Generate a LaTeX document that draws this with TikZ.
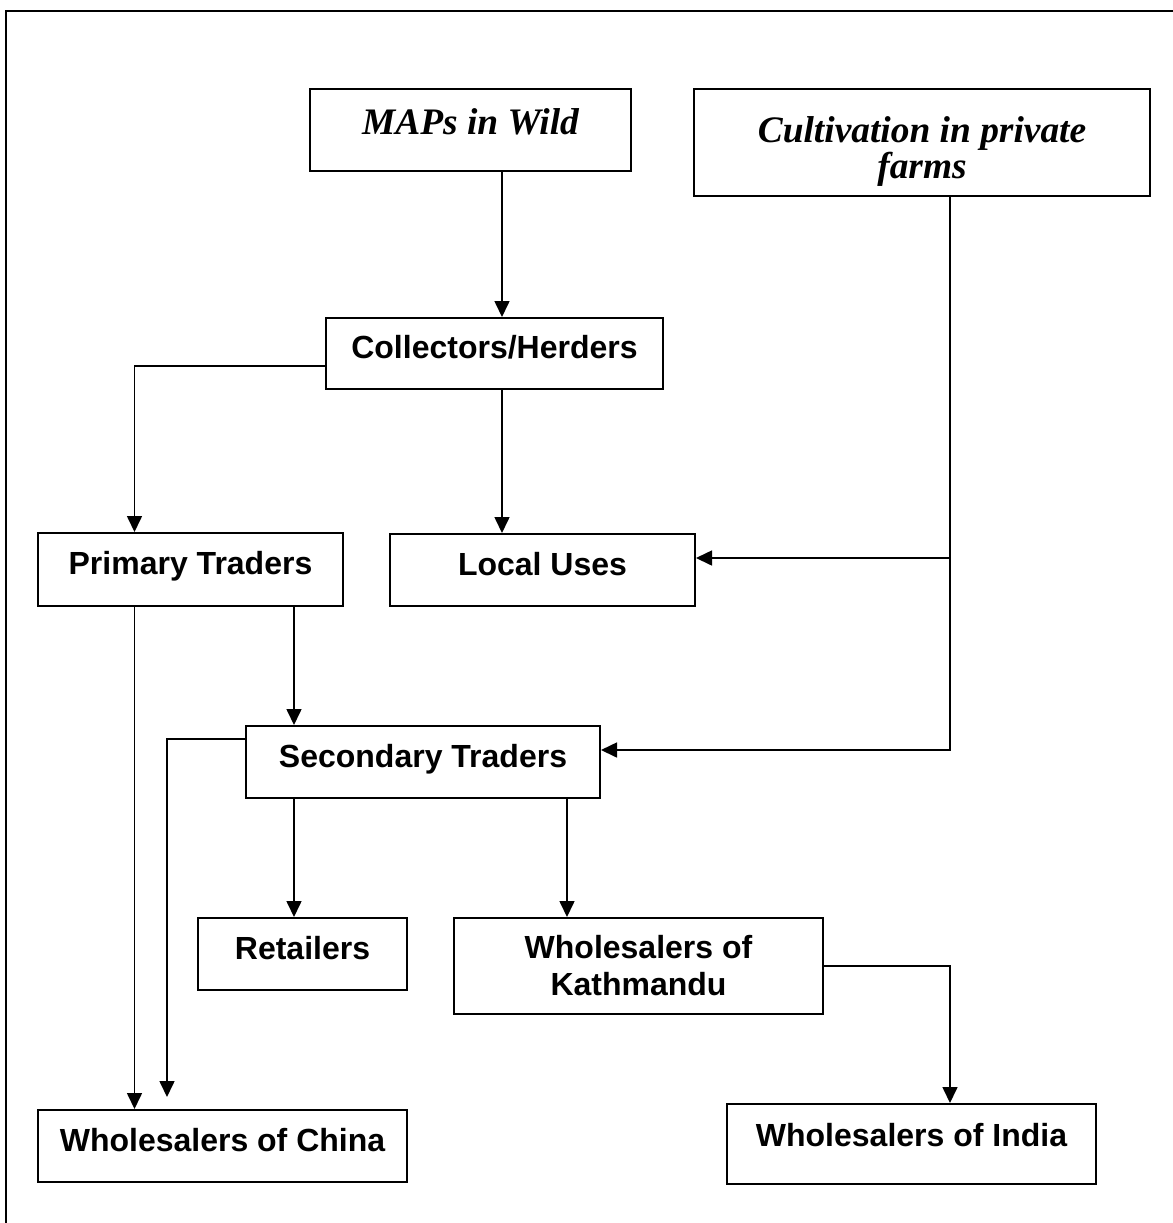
\documentclass[tikz,border=0pt]{standalone}
\usepackage{fontspec}
\setmainfont{Liberation Serif}
\setsansfont{Liberation Sans}
\usetikzlibrary{arrows.meta}

\begin{document}
\begin{tikzpicture}[
    x=0.5pt, y=-0.5pt,
    % boxes with bold sans text
    box/.style={draw, line width=1pt, rectangle, inner sep=0pt, align=center,
        font=\sffamily\bfseries\fontsize{16}{18.5}\selectfont},
    % single line, sitting a little above the middle
    oneline/.style={text height=12pt, text depth=7pt},
    % source boxes with italic serif text
    source/.style={box, font=\rmfamily\bfseries\itshape\fontsize{18.7}{18}\selectfont},
    % connectors
    flow/.style={line width=0.8pt, -{Triangle[length=8pt, width=7.5pt]}},
    % outer frame
    frame/.style={line width=1pt}
]
    \useasboundingbox (0,0) rectangle (1173,1223);

    % 1. outer frame (only top and left are inside the picture)
    \draw[frame] (6,1223) -- (6,11) -- (1173,11);

    % 2. sources
    \node[source, minimum width=160.5pt, minimum height=41pt,
          text height=13pt, text depth=9pt] (wild) at (470.5,130) {MAPs in Wild};
    \node[source, minimum width=228pt, minimum height=53.5pt] (farm) at (922,142.5)
        {\rule{0pt}{22pt}Cultivation in private\\farms};

    % 3. traders and uses
    \node[box, oneline, minimum width=168.5pt, minimum height=35.5pt] (collect) at (494.5,353.5) {Collectors/Herders};
    \node[box, oneline, minimum width=152.5pt, minimum height=36.5pt] (primary) at (190.5,569.5) {Primary Traders};
    \node[box, oneline, minimum width=152.5pt, minimum height=36pt]   (local)   at (542.5,570)   {Local Uses};
    \node[box, oneline, minimum width=177pt,   minimum height=36pt]   (second)  at (423,762)     {Secondary Traders};
    \node[box, oneline, minimum width=104.5pt, minimum height=36pt]   (retail)  at (302.5,954)   {Retailers};
    \node[box, minimum width=184.5pt, minimum height=48pt] (ktm) at (638.5,966) {Wholesalers of\\Kathmandu};
    \node[box, oneline, minimum width=184.5pt, minimum height=36pt]   (china)   at (222.5,1146)  {Wholesalers of China};
    \node[box, text height=12pt, text depth=10pt, minimum width=184.5pt, minimum height=40pt]
        (india) at (911.5,1144) {Wholesalers of India};

    % 4. columns of the vertical connectors
    \coordinate (colA) at (134.5,0);
    \coordinate (colC) at (294,0);
    \coordinate (colD) at (502,0);
    \coordinate (colE) at (567,0);
    \coordinate (colF) at (950,0);
    \coordinate (inL)  at ([yshift=6pt]local.east);
    \coordinate (outS) at ([yshift=11.5pt]second.west);
    \coordinate (endS) at (167,1097);

    % 5. connectors
    \draw[flow] (wild.south -| colD) -- (collect.north -| colD);
    \draw[flow] ([yshift=-6.25pt]collect.west) -| (primary.north -| colA);
    \draw[flow] (collect.south -| colD) -- (local.north -| colD);
    \draw[flow] (farm.south -| colF) |- ([yshift=6pt]second.east);
    \draw[flow] (inL -| colF) -- (inL);
    \draw[flow] (primary.south -| colA) -- (china.north -| colA);
    \draw[flow] (primary.south -| colC) -- (second.north -| colC);
    \draw[flow] (outS) -| (endS);
    \draw[flow] (second.south -| colC) -- (retail.north -| colC);
    \draw[flow] (second.south -| colE) -- (ktm.north -| colE);
    \draw[flow] (ktm.east) -| (india.north -| colF);

\end{tikzpicture}
\end{document}
